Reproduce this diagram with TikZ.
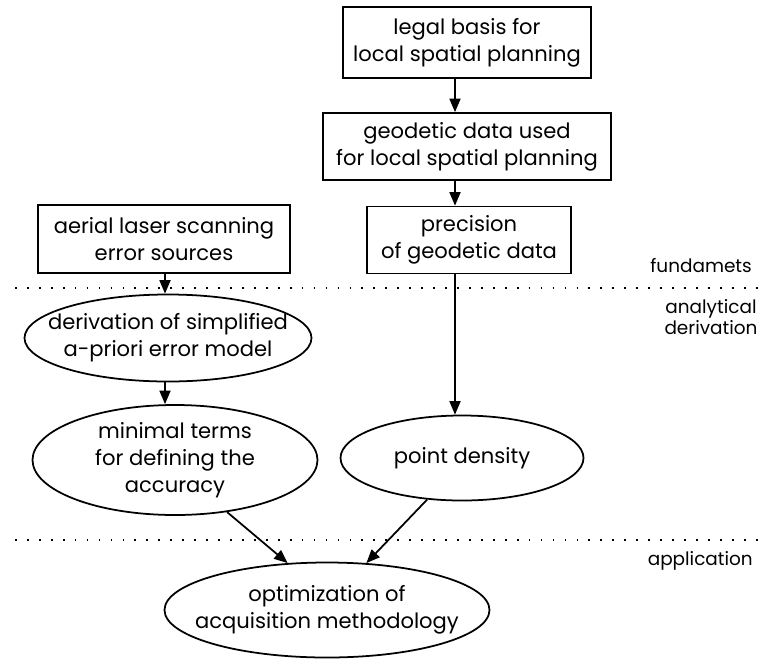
\documentclass[tikz,border=0pt]{standalone}
\usepackage{fontspec}
\setmainfont{Poppins}
\usetikzlibrary{positioning, arrows.meta, shapes.geometric}

\begin{document}
\begin{tikzpicture}[x=0.02cm, y=-0.02cm,
  fbox/.style={rectangle, draw, line width=1pt, inner sep=0pt,
               font=\fontsize{12}{15.3}\selectfont, align=center},
  fell/.style={ellipse, draw, line width=1pt, inner xsep=-0.8cm, inner ysep=0pt,
               font=\fontsize{12}{15.3}\selectfont, align=center},
  lvl/.style={font=\fontsize{10.5}{12}\selectfont, align=center},
  arr/.style={-{Triangle[length=0.27cm, width=0.22cm]}, line width=1pt},
  sep/.style={line width=1.1pt, dash pattern=on 1pt off 5.8pt}
]
\useasboundingbox (0,0) rectangle (763,659);

% upper part
\node[fbox, minimum width=248*0.02cm, minimum height=71*0.02cm]
     (legal) at (467,42.5) {legal basis for\\local spatial planning};
\node[fbox, minimum width=288*0.02cm, minimum height=67*0.02cm]
     (geod)  at (467,146.5) {geodetic data used\\for local spatial planning};
\node[fbox, minimum width=204*0.02cm, minimum height=67*0.02cm]
     (prec)  at (469,240) {precision\\of geodetic data};
\node[fbox, minimum width=252*0.02cm, minimum height=68*0.02cm]
     (als)   at (164,239) {aerial laser scanning\\error sources};

% derivation part
\node[fell, minimum width=287*0.02cm, minimum height=87*0.02cm]
     (deriv) at (168,338) {derivation of simplified\\a-priori error model};
\node[fell, minimum width=285*0.02cm, minimum height=110*0.02cm]
     (terms) at (175,460) {minimal terms\\for defining the\\accuracy};
\node[fell, minimum width=243*0.02cm, minimum height=85*0.02cm]
     (dens)  at (462,458) {point density};
\node[fell, minimum width=325*0.02cm, minimum height=95*0.02cm]
     (optim) at (327,610) {optimization of\\acquisition methodology};

% levels
\draw[sep] (15,288) -- (763,288);
\draw[sep] (15,540) -- (763,540);
\node[lvl, anchor=east] (lfund) at (758,266) {fundamets};
\node[lvl] (lanal) at (711,317) {analytical\\derivation};
\node[lvl, anchor=east] (lappl) at (759,561) {application};

\draw[arr] (legal.south -| 455,0) -- (geod.north -| 455,0);
\draw[arr] (geod.south -| 455,0) -- (prec.north -| 455,0);
\draw[arr] (prec.south -| 455,0) -- (dens.north -| 455,0);
\draw[arr] (als.south -| 165,0) -- (deriv.north -| 165,0);
\draw[arr] (deriv.south -| 165,0) -- (terms.north -| 165,0);
\draw[arr] (terms.-45) -- (optim.130);
\draw[arr] (dens.-130) -- (optim.50);
\end{tikzpicture}
\end{document}
